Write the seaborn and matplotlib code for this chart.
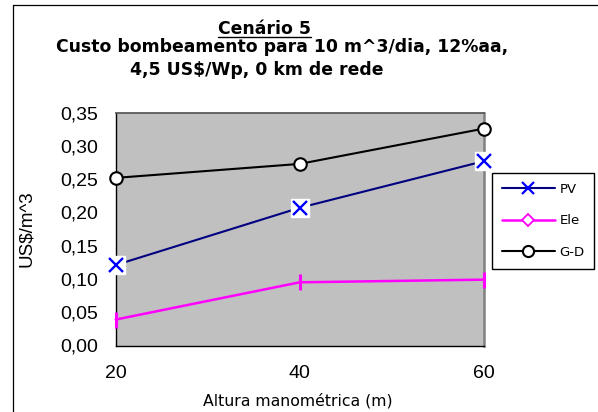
import matplotlib
matplotlib.use("Agg")
import matplotlib.pyplot as plt
import seaborn as sns
from matplotlib.lines import Line2D
from matplotlib.ticker import FixedLocator, FuncFormatter

# ---- data ----
alturas = [20, 40, 60]
pv = [0.121, 0.207, 0.277]
ele = [0.039, 0.095, 0.099]
gd = [0.252, 0.273, 0.326]
series_names = ["PV", "Ele", "G-D"]
x_ticks = [20, 40, 60]
y_ticks = [0.00, 0.05, 0.10, 0.15, 0.20, 0.25, 0.30, 0.35]
title_lines = ["Cenário 5",
               "Custo bombeamento para 10 m^3/dia, 12%aa,",
               "4,5 US$/Wp, 0 km de rede"]
x_label = "Altura manométrica (m)"
y_label = "US$/m^3"

sns.set_style("white")
plt.rcParams["font.family"] = ["Liberation Sans", "DejaVu Sans"]
plt.rcParams["text.color"] = "black"
plt.rcParams["axes.labelcolor"] = "black"
plt.rcParams["xtick.color"] = "black"
plt.rcParams["ytick.color"] = "black"

W, H = 598, 412
fig = plt.figure(figsize=(W / 100, H / 100), dpi=100)
fig.patch.set_facecolor("white")

L, R, T, B = 115.7, 483.5, 112.7, 345.5
ax = fig.add_axes([L / W, 1 - B / H, (R - L) / W, (B - T) / H])
ax.set_facecolor("#C0C0C0")

# PV
sns.lineplot(x=alturas, y=pv, ax=ax, color="#000080", lw=1.5, legend=False, zorder=3)
ax.plot(alturas, pv, ls="none", marker="s", ms=13, mfc="white", mec="white", zorder=4)
ax.plot(alturas, pv, ls="none", marker="x", ms=9.5, mec="#0000FF", mew=1.7, zorder=5)
# Ele
sns.lineplot(x=alturas, y=ele, ax=ax, color="#FF00FF", lw=1.8, marker="|", ms=11,
             mew=2.2, mec="#FF00FF", legend=False, zorder=3)
# G-D
sns.lineplot(x=alturas, y=gd, ax=ax, color="black", lw=1.5, marker="o", ms=9,
             mfc="white", mec="black", mew=1.5, legend=False, zorder=6)
for ln in ax.lines:
    ln.set_clip_on(False)

ax.set_xlim(20, 60)
ax.set_ylim(0, 0.35)
ax.xaxis.set_major_locator(FixedLocator(x_ticks))
ax.yaxis.set_major_locator(FixedLocator(y_ticks))
ax.yaxis.set_major_formatter(FuncFormatter(lambda v, p: f"{v:.2f}".replace(".", ",")))
ax.tick_params(axis="both", direction="inout", length=10, width=1, color="black",
               labelsize=14, labelcolor="black")
ax.tick_params(axis="x", pad=9.3)
ax.tick_params(axis="y", pad=7.5)
ax.grid(False)

for s in ["left", "bottom"]:
    ax.spines[s].set_color("black")
    ax.spines[s].set_linewidth(1.0)
ax.spines["top"].set_color("#5a5a5a")
ax.spines["top"].set_linewidth(1.3)
ax.spines["right"].set_color("#808080")
ax.spines["right"].set_linewidth(1.8)
for s in ax.spines.values():
    s.set_visible(True)

ax.set_ylabel(y_label, fontsize=13.5, color="black")
ax.yaxis.set_label_coords((26.5 - L) / (R - L), 0.5)
ax.yaxis.label.set_verticalalignment("center")
ax.yaxis.label.set_horizontalalignment("center")

ax.set_xlabel(x_label, fontsize=11.3, family="DejaVu Sans", color="black")
ax.xaxis.set_label_coords((298 - L) / (R - L), (B - 406) / (B - T))
ax.xaxis.label.set_verticalalignment("baseline")

# legend
handles = [
    Line2D([], [], color="#000080", lw=1.5, marker="x", ms=9, mec="#0000FF", mew=1.6),
    Line2D([], [], color="#FF00FF", lw=1.8, marker="D", ms=6, mfc="white", mec="#FF00FF", mew=1.3),
    Line2D([], [], color="black", lw=1.5, marker="o", ms=8, mfc="white", mec="black", mew=1.5),
]
leg = ax.legend(handles, series_names, loc="upper left",
                bbox_to_anchor=(492 / W, 1 - 173 / H), bbox_transform=fig.transFigure,
                frameon=True, fancybox=False, edgecolor="black", framealpha=1,
                prop={"family": "DejaVu Sans", "size": 9.5},
                handlelength=4.0, handletextpad=0.35, labelspacing=1.4,
                borderpad=0.75, borderaxespad=0)
leg.get_frame().set_linewidth(1.0)
leg.get_frame().set_facecolor("white")
for t in leg.get_texts():
    t.set_color("black")

# titles
tfont = dict(family="DejaVu Sans", weight="bold", size=12.4, color="black")
t1 = fig.text(264.5 / W, 1 - 34 / H, title_lines[0], ha="center", va="baseline", **tfont)
fig.text(282.5 / W, 1 - 52.5 / H, title_lines[1], ha="center", va="baseline", **tfont)
fig.text(256.5 / W, 1 - 75 / H, title_lines[2], ha="center", va="baseline", **tfont)

# chart frame
fig.add_artist(Line2D([12.5 / W, 12.5 / W], [0, 1 - 5 / H], color="black", lw=0.9))
fig.add_artist(Line2D([12.5 / W, 1], [1 - 5 / H, 1 - 5 / H], color="black", lw=0.9))

# underline for first title line
fig.canvas.draw()
bb = t1.get_window_extent(renderer=fig.canvas.get_renderer())
fig.add_artist(Line2D([bb.x0 / W, bb.x1 / W], [1 - 37 / H, 1 - 37 / H], color="black", lw=1.0))

fig.savefig("out.png", dpi=100)
